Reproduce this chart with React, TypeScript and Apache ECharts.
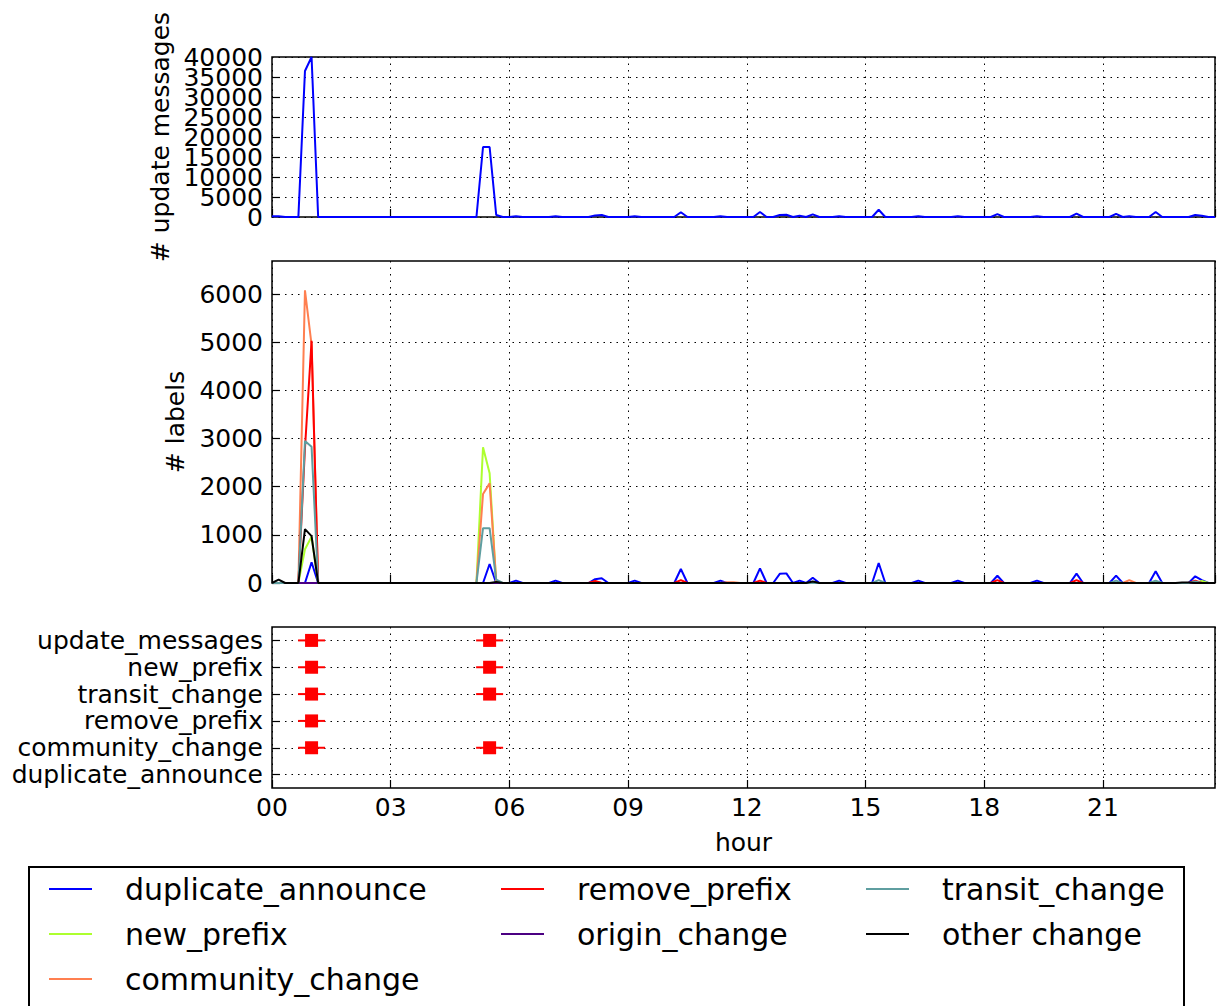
import React, { useEffect, useRef } from 'react';
import * as echarts from 'echarts';

const FONT = 'DejaVu Sans';

// sample times: every 10 minutes from 00:00 to 23:50 (in hours)
const SAMPLE_MINUTES = 10;
const SAMPLE_COUNT = 144;
const hours: number[] = Array.from({ length: SAMPLE_COUNT }, (_, i) => (i * SAMPLE_MINUTES) / 60);

const xTickHours = [0, 3, 6, 9, 12, 15, 18, 21];

// top panel: number of update messages (each row = 4 hours)
const updateMessages = [
  200, 200, 0, 0, 0, 36500, 40000, 0, 0, 0, 0, 0, 0, 0, 0, 0, 0, 0, 0, 0, 0, 0, 0, 0,
  0, 0, 0, 0, 0, 0, 0, 0, 17500, 17500, 500, 0, 0, 200, 0, 0, 0, 0, 0, 200, 0, 0, 0, 0,
  0, 400, 500, 0, 0, 0, 0, 200, 0, 0, 0, 0, 0, 0, 1200, 0, 0, 0, 0, 0, 200, 0, 0, 0,
  0, 0, 1250, 0, 0, 500, 550, 0, 300, 0, 650, 0, 0, 0, 200, 0, 0, 0, 0, 0, 1800, 0, 0, 0,
  0, 0, 200, 0, 0, 0, 0, 0, 200, 0, 0, 0, 0, 0, 700, 0, 0, 0, 0, 0, 200, 0, 0, 0,
  0, 0, 850, 0, 0, 0, 0, 0, 800, 0, 200, 0, 0, 0, 1250, 0, 0, 0, 0, 0, 500, 300, 0, 0,
];
const updateTicksMajor = 10000; // labelled every 10000 on one axis
const updateTicksMinor = 5000;  // and the in-between 5000s on the other

// middle panel: number of labels per type
const duplicateAnnounce = [
  0, 0, 0, 0, 0, 0, 430, 0, 0, 0, 0, 0, 0, 0, 0, 0, 0, 0, 0, 0, 0, 0, 0, 0,
  0, 0, 0, 0, 0, 0, 0, 0, 0, 395, 0, 0, 0, 50, 0, 0, 0, 0, 0, 50, 0, 0, 0, 0,
  0, 80, 100, 0, 0, 0, 0, 50, 0, 0, 0, 0, 0, 0, 290, 0, 0, 0, 0, 0, 50, 0, 0, 0,
  0, 0, 305, 0, 0, 190, 200, 0, 50, 0, 110, 0, 0, 0, 50, 0, 0, 0, 0, 0, 415, 0, 0, 0,
  0, 0, 50, 0, 0, 0, 0, 0, 50, 0, 0, 0, 0, 0, 150, 0, 0, 0, 0, 0, 50, 0, 0, 0,
  0, 0, 195, 0, 0, 0, 0, 0, 155, 0, 0, 0, 0, 0, 243, 0, 0, 0, 0, 0, 140, 60, 0, 0,
];
const newPrefix = [
  0, 0, 0, 0, 0, 700, 960, 0, 0, 0, 0, 0, 0, 0, 0, 0, 0, 0, 0, 0, 0, 0, 0, 0,
  0, 0, 0, 0, 0, 0, 0, 0, 2820, 2280, 0, 0, 0, 0, 0, 0, 0, 0, 0, 0, 0, 0, 0, 0,
  0, 0, 0, 0, 0, 0, 0, 0, 0, 0, 0, 0, 0, 0, 0, 0, 0, 0, 0, 0, 0, 0, 0, 0,
  0, 0, 0, 0, 0, 0, 0, 0, 0, 0, 0, 0, 0, 0, 0, 0, 0, 0, 0, 0, 0, 0, 0, 0,
  0, 0, 0, 0, 0, 0, 0, 0, 0, 0, 0, 0, 0, 0, 0, 0, 0, 0, 0, 0, 0, 0, 0, 0,
  0, 0, 0, 0, 0, 0, 0, 0, 0, 0, 0, 0, 0, 0, 30, 0, 0, 0, 0, 0, 0, 40, 0, 0,
];
const communityChange = [
  0, 0, 0, 0, 0, 6080, 4950, 0, 0, 0, 0, 0, 0, 0, 0, 0, 0, 0, 0, 0, 0, 0, 0, 0,
  0, 0, 0, 0, 0, 0, 0, 0, 1850, 2070, 30, 0, 0, 0, 0, 0, 0, 0, 0, 0, 0, 0, 0, 0,
  0, 30, 0, 0, 0, 0, 0, 0, 0, 0, 0, 0, 0, 0, 0, 0, 0, 0, 0, 0, 0, 15, 15, 0,
  0, 0, 0, 0, 0, 0, 0, 0, 0, 0, 0, 0, 0, 0, 0, 0, 0, 0, 0, 0, 0, 0, 0, 0,
  0, 0, 0, 0, 0, 0, 0, 0, 0, 0, 0, 0, 0, 0, 0, 0, 0, 0, 0, 0, 0, 0, 0, 0,
  0, 0, 0, 0, 0, 0, 0, 0, 0, 0, 60, 0, 0, 0, 0, 0, 0, 0, 0, 0, 20, 0, 0, 0,
];
const removePrefix = [
  0, 0, 0, 0, 0, 2800, 5030, 0, 0, 0, 0, 0, 0, 0, 0, 0, 0, 0, 0, 0, 0, 0, 0, 0,
  0, 0, 0, 0, 0, 0, 0, 0, 0, 0, 0, 0, 0, 0, 0, 0, 0, 0, 0, 0, 0, 0, 0, 0,
  0, 40, 0, 0, 0, 0, 0, 0, 0, 0, 0, 0, 0, 0, 60, 0, 0, 0, 0, 0, 0, 0, 0, 0,
  0, 0, 50, 0, 0, 0, 0, 0, 0, 0, 0, 0, 0, 0, 0, 0, 0, 0, 0, 0, 0, 0, 0, 0,
  0, 0, 0, 0, 0, 0, 0, 0, 0, 0, 0, 0, 0, 0, 60, 0, 0, 0, 0, 0, 0, 0, 0, 0,
  0, 0, 60, 0, 0, 0, 0, 0, 0, 0, 0, 0, 0, 0, 0, 0, 0, 0, 0, 0, 50, 0, 0, 0,
];
const originChange = [
  0, 0, 0, 0, 0, 0, 0, 0, 0, 0, 0, 0, 0, 0, 0, 0, 0, 0, 0, 0, 0, 0, 0, 0,
  0, 0, 0, 0, 0, 0, 0, 0, 0, 0, 0, 0, 0, 0, 0, 0, 0, 0, 0, 0, 0, 0, 0, 0,
  0, 0, 0, 0, 0, 0, 0, 0, 0, 0, 0, 0, 0, 0, 0, 0, 0, 0, 0, 0, 0, 0, 0, 0,
  0, 0, 0, 0, 0, 0, 0, 0, 0, 0, 0, 0, 0, 0, 0, 0, 0, 0, 0, 0, 0, 0, 0, 0,
  0, 0, 0, 0, 0, 0, 0, 0, 0, 0, 0, 0, 0, 0, 0, 0, 0, 0, 0, 0, 0, 0, 0, 0,
  0, 0, 0, 0, 0, 0, 0, 0, 0, 0, 0, 0, 0, 0, 0, 0, 0, 0, 0, 0, 0, 0, 0, 0,
];
const transitChange = [
  0, 0, 0, 0, 0, 2950, 2830, 0, 0, 0, 0, 0, 0, 0, 0, 0, 0, 0, 0, 0, 0, 0, 0, 0,
  0, 0, 0, 0, 0, 0, 0, 0, 1140, 1140, 70, 0, 0, 0, 0, 0, 0, 0, 0, 0, 0, 0, 0, 0,
  0, 0, 0, 0, 0, 0, 0, 0, 0, 0, 0, 0, 0, 0, 0, 0, 0, 0, 0, 0, 0, 0, 0, 0,
  0, 0, 0, 0, 0, 0, 0, 0, 0, 0, 0, 0, 0, 0, 0, 0, 0, 0, 0, 0, 60, 0, 0, 0,
  0, 0, 0, 0, 0, 0, 0, 0, 0, 0, 0, 0, 0, 0, 0, 0, 0, 0, 0, 0, 0, 0, 0, 0,
  0, 0, 0, 0, 0, 0, 0, 0, 50, 0, 0, 0, 0, 0, 50, 0, 0, 0, 0, 0, 30, 0, 0, 0,
];
const otherChange = [
  0, 70, 0, 0, 0, 1120, 975, 0, 0, 0, 0, 0, 0, 0, 0, 0, 0, 0, 0, 0, 0, 0, 0, 0,
  0, 0, 0, 0, 0, 0, 0, 0, 0, 0, 20, 0, 0, 0, 0, 0, 0, 0, 0, 0, 0, 0, 0, 0,
  0, 0, 0, 0, 0, 0, 0, 0, 0, 0, 0, 0, 0, 0, 0, 0, 0, 0, 0, 0, 0, 0, 0, 0,
  0, 0, 0, 0, 0, 0, 0, 0, 0, 0, 30, 0, 0, 0, 0, 0, 0, 0, 0, 0, 0, 0, 0, 0,
  0, 0, 0, 0, 0, 0, 0, 0, 0, 0, 0, 0, 0, 0, 0, 0, 0, 0, 0, 0, 0, 0, 0, 0,
  0, 0, 0, 0, 0, 0, 0, 0, 0, 0, 0, 0, 0, 0, 0, 0, 0, 0, 10, 10, 0, 0, 0, 0,
];

const labelSeriesNames = [
  'duplicate_announce', 'new_prefix', 'community_change', 'remove_prefix',
  'origin_change', 'transit_change', 'other change',
];
const labelSeriesValues = [
  duplicateAnnounce, newPrefix, communityChange, removePrefix,
  originChange, transitChange, otherChange,
];
const labelSeriesColors = ['#0000ff', '#adff2f', '#ff7f50', '#ff0000', '#4b0082', '#5f9ea0', '#000000'];

// bottom panel: anomaly categories (bottom to top)
const anomalyCategories = [
  'duplicate_announce', 'community_change', 'remove_prefix',
  'transit_change', 'new_prefix', 'update_messages',
];
const anomalyHours = [1.0, 5.5];
const anomalyTypesAtFirst = ['update_messages', 'new_prefix', 'transit_change', 'remove_prefix', 'community_change'];
const anomalyTypesAtSecond = ['update_messages', 'new_prefix', 'transit_change', 'community_change'];

const legendColumns = [
  ['duplicate_announce', 'new_prefix', 'community_change'],
  ['remove_prefix', 'origin_change'],
  ['transit_change', 'other change'],
];

export default function App() {
  const ref = useRef<HTMLDivElement>(null);

  useEffect(() => {
    if (!ref.current) return;
    const chart = echarts.init(ref.current, null, { renderer: 'svg' });

    const gridBox = [
      { left: 272, top: 57, width: 943, height: 160 },
      { left: 272, top: 261, width: 943, height: 322 },
      { left: 272, top: 627, width: 943, height: 161 },
    ];
    const xMax = hours[hours.length - 1];
    const dotted = { type: [1.5, 5] as any, color: '#000', width: 1 };
    const tickStyle = { show: true, inside: true, length: 8, lineStyle: { color: '#000', width: 1.2 } };
    const labelText = { fontFamily: FONT, fontSize: 25, color: '#000' };
    const plain = (v: number) => String(v);

    const xAxes = gridBox.map((_, k) => ({
      type: 'value',
      gridIndex: k,
      min: 0,
      max: xMax,
      interval: xTickHours[1] - xTickHours[0],
      axisLine: { show: false },
      axisTick: tickStyle,
      axisLabel: {
        show: k === 2,
        ...labelText,
        margin: 7,
        showMaxLabel: false,
        formatter: (v: number) => (v < 10 ? '0' : '') + v,
      },
      splitLine: { show: true, lineStyle: dotted },
      name: k === 2 ? 'hour' : '',
      nameLocation: 'middle',
      nameGap: 42,
      nameTextStyle: labelText,
    }));

    const yAxes: any[] = [
      // top panel, labels at multiples of 10000
      {
        type: 'value', gridIndex: 0, position: 'left', offset: 0,
        min: 0, max: 40000, interval: updateTicksMajor,
        axisLine: { show: false }, axisTick: { show: false },
        axisLabel: { ...labelText, margin: 9, formatter: plain, showMinLabel: true, showMaxLabel: true },
        splitLine: { show: false },
        name: '# update messages', nameLocation: 'middle', nameRotate: 90, nameGap: 96,
        nameTextStyle: labelText,
      },
      // top panel, ticks/grid every 5000 and labels at the odd 5000s
      {
        type: 'value', gridIndex: 0, position: 'left', offset: 0,
        min: 0, max: 40000, interval: updateTicksMinor,
        axisLine: { show: false }, axisTick: tickStyle,
        axisLabel: {
          ...labelText, margin: 9, showMinLabel: false, showMaxLabel: false,
          formatter: (v: number) => (v % updateTicksMajor === 0 ? '' : String(v)),
        },
        splitLine: { show: true, lineStyle: dotted },
      },
      {
        type: 'value', gridIndex: 1, min: 0, max: 6690, interval: 1000,
        axisLine: { show: false }, axisTick: tickStyle,
        axisLabel: { ...labelText, margin: 9, formatter: plain, showMaxLabel: false },
        splitLine: { show: true, lineStyle: dotted, showMaxLine: false },
        name: '# labels', nameLocation: 'middle', nameRotate: 90, nameGap: 78,
        nameTextStyle: labelText,
      },
      {
        type: 'category', gridIndex: 2, data: anomalyCategories, boundaryGap: true,
        axisLine: { show: false },
        axisTick: { ...tickStyle, alignWithLabel: true, interval: 0 },
        axisLabel: { ...labelText, margin: 9, interval: 0 },
        splitLine: { show: true, lineStyle: dotted, alignWithLabel: true, interval: 0 },
      },
    ];

    const series: any[] = [
      {
        name: 'update_messages', type: 'line', xAxisIndex: 0, yAxisIndex: 0,
        data: hours.map((h, i) => [h, updateMessages[i]]),
        symbol: 'none', clip: false,
        lineStyle: { color: '#0000ff', width: 2 }, itemStyle: { color: '#0000ff' },
      },
      ...labelSeriesNames.map((name, s) => ({
        name, type: 'line', xAxisIndex: 1, yAxisIndex: 2,
        data: hours.map((h, i) => [h, labelSeriesValues[s][i]]),
        symbol: 'none', clip: false, z: 2 + s,
        lineStyle: { color: labelSeriesColors[s], width: 2 },
        itemStyle: { color: labelSeriesColors[s] },
      })),
    ];

    const anomalyPoints = [
      ...anomalyTypesAtFirst.map((t) => [anomalyHours[0], t]),
      ...anomalyTypesAtSecond.map((t) => [anomalyHours[1], t]),
    ];
    series.push(
      {
        name: 'anomaly_span', type: 'scatter', xAxisIndex: 2, yAxisIndex: 3,
        data: anomalyPoints, symbol: 'rect', symbolSize: [27, 2],
        itemStyle: { color: '#ff0000', opacity: 1 }, z: 10,
      },
      {
        name: 'anomaly', type: 'scatter', xAxisIndex: 2, yAxisIndex: 3,
        data: anomalyPoints, symbol: 'rect', symbolSize: 13,
        itemStyle: { color: '#ff0000', opacity: 1 }, z: 11,
      },
    );

    const legendLefts = [49, 501, 866];
    const legends = legendColumns.map((names, c) => ({
      data: names.map((n) => ({ name: n, icon: 'rect' })),
      orient: 'vertical',
      left: legendLefts[c],
      top: 874,
      itemWidth: 43,
      itemHeight: 2,
      itemGap: 15,
      padding: 0,
      selectedMode: false,
      itemStyle: { borderWidth: 0 },
      textStyle: { fontFamily: FONT, fontSize: 30, color: '#000', lineHeight: 30, padding: [0, 0, 0, 28] },
    }));

    chart.setOption({
      animation: false,
      backgroundColor: '#fff',
      textStyle: { fontFamily: FONT },
      grid: gridBox.map((g) => ({
        ...g, show: true, borderColor: '#000', borderWidth: 1.5, backgroundColor: 'transparent',
      })),
      xAxis: xAxes,
      yAxis: yAxes,
      legend: legends,
      graphic: [
        {
          type: 'rect', left: 28, top: 866, z: -1,
          shape: { x: 0, y: 0, width: 1155, height: 170 },
          style: { fill: '#fff', stroke: '#000', lineWidth: 2 },
        },
      ],
      series,
    });

    return () => chart.dispose();
  }, []);

  return (
    <div
      ref={ref}
      style={{ position: 'absolute', left: 0, top: 0, width: 1217, height: 1006, background: '#fff' }}
    />
  );
}
